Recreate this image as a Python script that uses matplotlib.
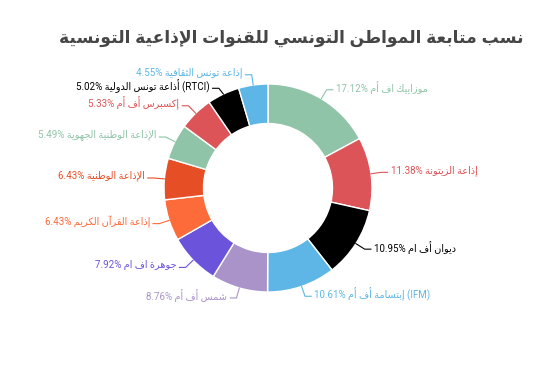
import numpy as np
import matplotlib.pyplot as plt

# Arabic shaping tables (isolated, final, initial, medial)
FORMS = {
    'ء': (0xFE80,), 'آ': (0xFE81, 0xFE82), 'أ': (0xFE83, 0xFE84), 'ؤ': (0xFE85, 0xFE86),
    'إ': (0xFE87, 0xFE88), 'ئ': (0xFE89, 0xFE8A, 0xFE8B, 0xFE8C), 'ا': (0xFE8D, 0xFE8E),
    'ب': (0xFE8F, 0xFE90, 0xFE91, 0xFE92), 'ة': (0xFE93, 0xFE94),
    'ت': (0xFE95, 0xFE96, 0xFE97, 0xFE98), 'ث': (0xFE99, 0xFE9A, 0xFE9B, 0xFE9C),
    'ج': (0xFE9D, 0xFE9E, 0xFE9F, 0xFEA0), 'ح': (0xFEA1, 0xFEA2, 0xFEA3, 0xFEA4),
    'خ': (0xFEA5, 0xFEA6, 0xFEA7, 0xFEA8), 'د': (0xFEA9, 0xFEAA), 'ذ': (0xFEAB, 0xFEAC),
    'ر': (0xFEAD, 0xFEAE), 'ز': (0xFEAF, 0xFEB0),
    'س': (0xFEB1, 0xFEB2, 0xFEB3, 0xFEB4), 'ش': (0xFEB5, 0xFEB6, 0xFEB7, 0xFEB8),
    'ص': (0xFEB9, 0xFEBA, 0xFEBB, 0xFEBC), 'ض': (0xFEBD, 0xFEBE, 0xFEBF, 0xFEC0),
    'ط': (0xFEC1, 0xFEC2, 0xFEC3, 0xFEC4), 'ظ': (0xFEC5, 0xFEC6, 0xFEC7, 0xFEC8),
    'ع': (0xFEC9, 0xFECA, 0xFECB, 0xFECC), 'غ': (0xFECD, 0xFECE, 0xFECF, 0xFED0),
    'ف': (0xFED1, 0xFED2, 0xFED3, 0xFED4), 'ق': (0xFED5, 0xFED6, 0xFED7, 0xFED8),
    'ك': (0xFED9, 0xFEDA, 0xFEDB, 0xFEDC), 'ل': (0xFEDD, 0xFEDE, 0xFEDF, 0xFEE0),
    'م': (0xFEE1, 0xFEE2, 0xFEE3, 0xFEE4), 'ن': (0xFEE5, 0xFEE6, 0xFEE7, 0xFEE8),
    'ه': (0xFEE9, 0xFEEA, 0xFEEB, 0xFEEC), 'و': (0xFEED, 0xFEEE), 'ى': (0xFEEF, 0xFEF0),
    'ي': (0xFEF1, 0xFEF2, 0xFEF3, 0xFEF4),
}
LAM_ALEF = {'آ': (0xFEF5, 0xFEF6), 'أ': (0xFEF7, 0xFEF8), 'إ': (0xFEF9, 0xFEFA), 'ا': (0xFEFB, 0xFEFC)}


def shape(text):
    # merge lam + alef into ligature tokens
    tokens = []
    i = 0
    while i < len(text):
        if text[i] == 'ل' and i + 1 < len(text) and text[i + 1] in LAM_ALEF:
            tokens.append(('LA', text[i + 1]))
            i += 2
        else:
            tokens.append(('C', text[i]))
            i += 1

    def dual(t):
        return t is not None and t[0] == 'C' and t[1] in FORMS and len(FORMS[t[1]]) == 4

    def arabic(t):
        return t is not None and (t[0] == 'LA' or t[1] in FORMS)

    out = []
    for k, t in enumerate(tokens):
        prev = tokens[k - 1] if k > 0 else None
        nxt = tokens[k + 1] if k + 1 < len(tokens) else None
        if t[0] == 'LA':
            f = LAM_ALEF[t[1]]
            out.append(chr(f[1] if dual(prev) else f[0]))
            continue
        c = t[1]
        if c not in FORMS:
            out.append(c)
            continue
        f = FORMS[c]
        jp = dual(prev)
        jn = len(f) == 4 and arabic(nxt)
        if jp and jn:
            out.append(chr(f[3]))
        elif jn:
            out.append(chr(f[2]))
        elif jp and len(f) > 1:
            out.append(chr(f[1]))
        else:
            out.append(chr(f[0]))
    return ''.join(reversed(out))


title = "نسب متابعة المواطن التونسي للقنوات الإذاعية التونسية"
names = ["موزاييك اف أم", "إذاعة الزيتونة", "ديوان أف ام", "إبتسامة أف أم", "شمس أف أم",
         "جوهرة اف ام", "إذاعة القرآن الكريم", "الإذاعة الوطنية", "الإذاعة الوطنية الجهوية",
         "إكسبرس أف أم", "أذاعة تونس الدولية", "إذاعة تونس الثقافية"]
tags = ["", "", "", "(IFM)", "", "", "", "", "", "", "(RTCI)", ""]
values = [17.12, 11.38, 10.95, 10.61, 8.76, 7.92, 6.43, 6.43, 5.49, 5.33, 5.02, 4.55]
colors = ["#8fc4a8", "#dd5458", "#000000", "#5db6e6", "#aa93c9", "#6b53db",
          "#fe6b3a", "#e64f26", "#8fc4a8", "#dd5458", "#000000", "#5db6e6"]

fig = plt.figure(figsize=(5.6, 3.7), dpi=100)
cx, cy, r = 268, 188, 104
L = 2.6
w = 2 * L * r / 560
h = 2 * L * r / 370
ax = fig.add_axes([cx / 560 - w / 2, (370 - cy) / 370 - h / 2, w, h])

wedges, _ = ax.pie(values, colors=colors, startangle=90, counterclock=False, radius=1,
                   wedgeprops=dict(width=0.38, edgecolor='white', linewidth=1))
ax.set_xlim(-L, L)
ax.set_ylim(-L, L)
ax.axis('off')

# label anchor points, then push apart labels on the same side
info = []
for wd in wedges:
    ang = np.deg2rad((wd.theta1 + wd.theta2) / 2)
    x1, y1 = np.cos(ang) * 1.1, np.sin(ang) * 1.1
    info.append([ang, x1, y1, 1 if x1 >= 0 else -1])

gap = 0.13
for side in (1, -1):
    idx = sorted([i for i in range(len(info)) if info[i][3] == side], key=lambda i: -info[i][2])
    for a, b in zip(idx[:-1], idx[1:]):
        if info[a][2] - info[b][2] < gap:
            info[b][2] = info[a][2] - gap

for (ang, x1, y1, s), name, tag, v, c in zip(info, names, tags, values, colors):
    x0, y0 = np.cos(ang), np.sin(ang)
    x2 = x1 + s * 0.06
    ax.plot([x0, x1, x2], [y0, y1, y1], color=c, lw=0.8)
    label = "%.2f%% %s" % (v, shape(name))
    if tag:
        label += " " + tag
    ax.text(x2 + s * 0.03, y1 + 0.02, label, color=c, fontsize=7,
            family=['Roboto', 'DejaVu Sans'],
            ha='left' if s > 0 else 'right', va='center')

fig.text(0.52, 0.895, shape(title), ha='center', va='center', fontsize=12.3,
         fontweight='bold', color='#464646', family=['Liberation Sans', 'DejaVu Sans'])

fig.savefig("out.png", dpi=100)
